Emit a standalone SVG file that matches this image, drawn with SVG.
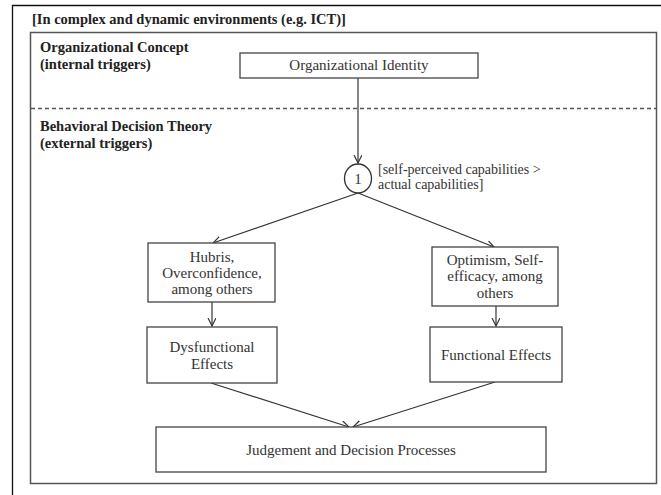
<svg xmlns="http://www.w3.org/2000/svg" width="661" height="495" viewBox="0 0 661 495">
<defs>
<style>
.bx{fill:#fff;stroke:#444;stroke-width:1.3}
.t{font-family:"Liberation Serif","Times New Roman",serif;font-size:15px;fill:#333;text-anchor:middle}
.l{font-family:"Liberation Serif","Times New Roman",serif;font-size:14px;fill:#333}
.h{font-family:"Liberation Serif","Times New Roman",serif;font-size:14.5px;font-weight:bold;fill:#222}
.c{fill:none;stroke:#333;stroke-width:1.2}
</style>
<marker id="ah" markerWidth="10" markerHeight="10" refX="8" refY="4" orient="auto" markerUnits="userSpaceOnUse">
<path d="M0,0 L8,4 L0,8" fill="none" stroke="#333" stroke-width="1.2"/>
</marker>
</defs>
<rect width="661" height="495" fill="#fff"/>
<g id="frame">
<path d="M12.5,495 V5.5 H661" fill="none" stroke="#111" stroke-width="1.3"/>
<text class="h" x="32" y="24">[In complex and dynamic environments (e.g. ICT)]</text>
<rect x="30.5" y="32.5" width="626" height="451" fill="none" stroke="#555" stroke-width="1.5"/>
<line x1="31" y1="108.5" x2="657" y2="108.5" stroke="#555" stroke-width="1.5" stroke-dasharray="4,3"/>
<text class="h" x="40" y="52">Organizational Concept</text>
<text class="h" x="40" y="69">(internal triggers)</text>
<text class="h" x="40" y="131">Behavioral Decision Theory</text>
<text class="h" x="40" y="148">(external triggers)</text>
</g>
<g id="connectors">
<line class="c" x1="358" y1="78" x2="358" y2="163" marker-end="url(#ah)"/>
<line class="c" x1="358" y1="193" x2="213" y2="243" marker-end="url(#ah)"/>
<line class="c" x1="358" y1="193" x2="494" y2="247" marker-end="url(#ah)"/>
<line class="c" x1="212" y1="302" x2="212" y2="326" marker-end="url(#ah)"/>
<line class="c" x1="496" y1="306" x2="496" y2="326" marker-end="url(#ah)"/>
<line class="c" x1="211" y1="383" x2="349" y2="427" marker-end="url(#ah)"/>
<line class="c" x1="495" y1="382" x2="353" y2="427" marker-end="url(#ah)"/>
</g>
<g id="org-identity">
<rect class="bx" x="240" y="53" width="238" height="25"/>
<text class="t" x="359" y="70">Organizational Identity</text>
</g>
<g id="node-1">
<ellipse cx="358" cy="178.5" rx="13.5" ry="14.5" fill="#fff" stroke="#333" stroke-width="1.3"/>
<text class="t" x="358" y="184">1</text>
<text class="l" x="378" y="174">[self-perceived  capabilities &gt;</text>
<text class="l" x="378" y="189">actual capabilities]</text>
</g>
<g id="hubris">
<rect class="bx" x="148" y="243" width="127" height="59"/>
<text class="t" x="212" y="262">Hubris,</text>
<text class="t" x="212" y="278">Overconfidence,</text>
<text class="t" x="212" y="294">among others</text>
</g>
<g id="optimism">
<rect class="bx" x="432" y="247" width="126" height="59"/>
<text class="t" x="495" y="265">Optimism, Self-</text>
<text class="t" x="495" y="281">efficacy, among</text>
<text class="t" x="495" y="298">others</text>
</g>
<g id="dysfunctional">
<rect class="bx" x="147" y="327" width="130" height="56"/>
<text class="t" x="212" y="352">Dysfunctional</text>
<text class="t" x="212" y="369">Effects</text>
</g>
<g id="functional">
<rect class="bx" x="430" y="327" width="132" height="55"/>
<text class="t" x="496" y="360">Functional Effects</text>
</g>
<g id="judgement">
<rect class="bx" x="156" y="427" width="390" height="45"/>
<text class="t" x="351" y="455">Judgement and Decision Processes</text>
</g>
</svg>
